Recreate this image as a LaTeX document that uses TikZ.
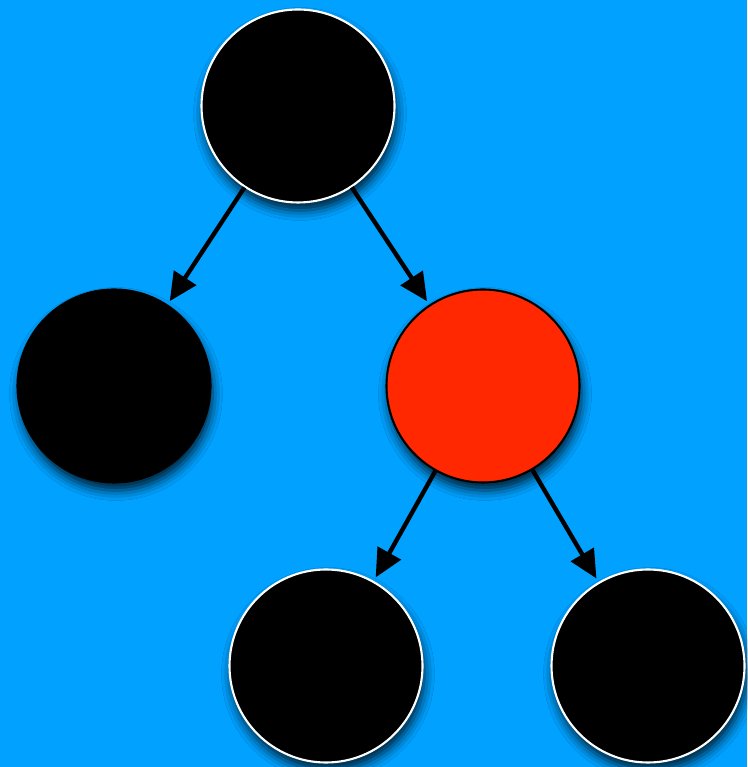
\documentclass[tikz,border=0pt]{standalone}
\usetikzlibrary{arrows.meta,shadows.blur}
\definecolor{skyback}{RGB}{0, 161, 255}
\definecolor{hotred}{RGB}{255, 40, 0}

\begin{document}
\begin{tikzpicture}[
    every node/.style={circle, minimum size=3.86cm, inner sep=0pt, line width=1.2pt,
        blur shadow={shadow xshift=0.04cm, shadow yshift=-0.16cm, shadow blur radius=0.2cm, shadow opacity=80}},
    blacknode/.style={fill=black, draw=white},
    plainnode/.style={fill=black, draw=black},
    rednode/.style={fill=hotred, draw=black},
    link/.style={line width=2.5pt, -{Triangle[length=0.56cm, width=0.52cm]}, shorten >=0.08cm}
]
\useasboundingbox (0,0) rectangle (14.94,15.34);
\fill[skyback] (0,0) rectangle (14.94,15.34);

\node[blacknode] (root) at (5.96,13.22) {};
\node[plainnode] (left) at (2.28,7.62) {};
\node[rednode] (mid) at (9.66,7.62) {};
\node[blacknode] (lowleft) at (6.52,2.02) {};
\node[blacknode] (lowright) at (12.96,2.02) {};

\draw[link] (root) -- (left);
\draw[link] (root) -- (mid);
\draw[link] (mid) -- (lowleft);
\draw[link] (mid) -- (lowright);
\end{tikzpicture}
\end{document}
